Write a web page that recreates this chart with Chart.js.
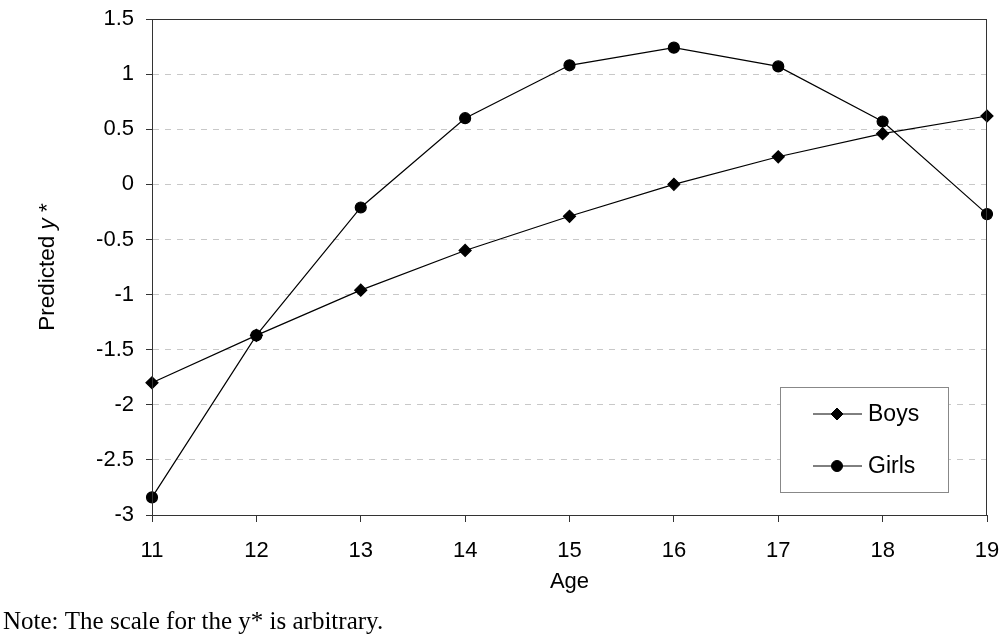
<!DOCTYPE html>
<html>
<head>
<meta charset="utf-8">
<style>
  body { margin: 0; background: #fff; }
</style>
<script src="https://cdn.jsdelivr.net/npm/chart.js@4"></script>
</head>
<body>
<canvas id="ageChart" width="1001" height="642"></canvas>
<script>
const ages = ['11', '12', '13', '14', '15', '16', '17', '18', '19'];
const boysValues = [-1.80, -1.37, -0.96, -0.60, -0.29, 0.00, 0.25, 0.46, 0.62];
const girlsValues = [-2.84, -1.37, -0.21, 0.60, 1.08, 1.24, 1.07, 0.57, -0.27];

const sans = 'Liberation Sans, Arial, sans-serif';

// frame round the plot area (top and right sides too)
const frame = {
  id: 'frame',
  afterDatasetsDraw(chart) {
    const { ctx, chartArea: a } = chart;
    ctx.save();
    ctx.strokeStyle = '#333';
    ctx.lineWidth = 1;
    ctx.strokeRect(a.left + 0.5, a.top + 0.5, a.right - a.left - 1, a.bottom - a.top);
    ctx.restore();
  }
};

// y title with italic y
const yTitle = {
  id: 'yTitle',
  afterDraw(chart) {
    const { ctx, chartArea: a } = chart;
    const parts = [['Predicted ', 'normal'], ['y', 'italic'], [' *', 'normal']];
    ctx.save();
    ctx.translate(48, (a.top + a.bottom) / 2);
    ctx.rotate(-Math.PI / 2);
    ctx.fillStyle = '#000';
    ctx.textBaseline = 'middle';
    let total = 0;
    parts.forEach(p => { ctx.font = p[1] + ' 22.5px ' + sans; total += ctx.measureText(p[0]).width; });
    let x = -total / 2;
    parts.forEach(p => {
      ctx.font = p[1] + ' 22.5px ' + sans;
      ctx.fillText(p[0], x, 0);
      x += ctx.measureText(p[0]).width;
    });
    ctx.restore();
  }
};

// boxed legend at lower right inside the plot
const boxLegend = {
  id: 'boxLegend',
  afterDraw(chart) {
    const { ctx, chartArea: a } = chart;
    const w = 168, h = 105;
    const left = a.right - 39 - w, top = a.bottom - 23 - h;
    ctx.save();
    ctx.fillStyle = '#fff';
    ctx.fillRect(left, top, w, h);
    ctx.strokeStyle = '#888';
    ctx.lineWidth = 1;
    ctx.strokeRect(left + 0.5, top + 0.5, w, h);
    chart.data.datasets.forEach((ds, i) => {
      const y = top + 27 + i * 52;
      ctx.strokeStyle = '#000';
      ctx.lineWidth = 1;
      ctx.beginPath();
      ctx.moveTo(left + 33, y);
      ctx.lineTo(left + 82, y);
      ctx.stroke();
      ctx.fillStyle = '#000';
      Chart.helpers.drawPoint(ctx, { pointStyle: ds.pointStyle, radius: ds.pointRadius, rotation: 0, borderWidth: 1 }, left + 57, y);
      ctx.fillStyle = '#000';
      ctx.font = '23px ' + sans;
      ctx.textBaseline = 'middle';
      ctx.fillText(ds.label, left + 88, y + 1);
    });
    ctx.restore();
  }
};

new Chart(document.getElementById('ageChart').getContext('2d'), {
  type: 'line',
  data: {
    labels: ages,
    datasets: [{
      label: 'Boys',
      data: boysValues,
      borderColor: '#000',
      backgroundColor: '#000',
      borderWidth: 1.2,
      pointStyle: 'rectRot',
      pointRadius: 6,
      tension: 0
    }, {
      label: 'Girls',
      data: girlsValues,
      borderColor: '#000',
      backgroundColor: '#000',
      borderWidth: 1.2,
      pointStyle: 'circle',
      pointRadius: 5.5,
      tension: 0
    }]
  },
  options: {
    responsive: false,
    animation: false,
    layout: { padding: { left: 3, top: 19, right: 14, bottom: 0 } },
    plugins: {
      legend: { display: false },
      tooltip: { enabled: false },
      subtitle: {
        display: true,
        position: 'bottom',
        align: 'start',
        text: 'Note: The scale for the y* is arbitrary.',
        color: '#000',
        font: { family: 'Liberation Serif, Times New Roman, serif', size: 25 },
        padding: { top: 0, bottom: 5 }
      }
    },
    scales: {
      x: {
        grid: { drawOnChartArea: false, drawTicks: true, tickLength: 7, tickColor: '#333' },
        border: { color: '#333' },
        ticks: { color: '#000', font: { family: sans, size: 22 }, padding: 16, maxRotation: 0 },
        title: { display: true, text: 'Age', color: '#000', font: { family: sans, size: 22 }, padding: { top: 0, bottom: 12 } },
        afterFit(scale) {
          scale.height = 92;
          scale.paddingLeft = 0;
          scale.paddingRight = 0;
        }
      },
      y: {
        min: -3,
        max: 1.5,
        ticks: {
          stepSize: 0.5,
          color: '#000',
          font: { family: sans, size: 22 },
          padding: 12,
          callback: v => String(v)
        },
        grid: {
          color: c => (c.index === 0 || c.index === 9) ? 'rgba(0,0,0,0)' : '#c8c8c8',
          tickColor: '#333',
          tickLength: 6
        },
        border: { color: '#333', dash: [6, 6] },
        afterFit(scale) {
          scale.width = 149;
          scale.paddingTop = 0;
          scale.paddingBottom = 0;
        }
      }
    }
  },
  plugins: [frame, yTitle, boxLegend]
});
</script>
</body>
</html>
